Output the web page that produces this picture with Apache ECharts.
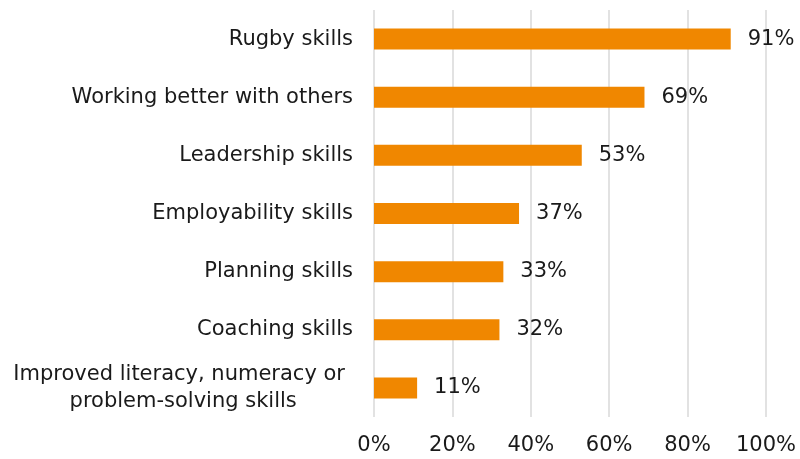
<!DOCTYPE html>
<html>
<head>
<meta charset="utf-8">
<script src="https://cdn.jsdelivr.net/npm/echarts@6/dist/echarts.min.js"></script>
<style>
  html, body { margin: 0; padding: 0; background: #ffffff; }
  #chart { width: 800px; height: 459px; }
</style>
</head>
<body>
<div id="chart"></div>
<script>
// Skills gained, share of respondents (%), listed top to bottom
const categories = [
  'Rugby skills',
  'Working better with others',
  'Leadership skills',
  'Employability skills',
  'Planning skills',
  'Coaching skills',
  'Improved literacy, numeracy or\nproblem-solving skills'
];
const values = [91, 69, 53, 37, 33, 32, 11];
const xTicks = [0, 20, 40, 60, 80, 100];

const FONT = 'DejaVu Sans';
const SIZE = 21;
const chart = echarts.init(document.getElementById('chart'), null, { renderer: 'canvas' });

// Wrapped category names: first line slightly inset, second line centred under it
function categoryLabel(v) {
  const lines = v.split('\n');
  if (lines.length === 1) return v;
  return lines.map((s, i) => (i === 0 ? '{a|' : '{b|') + s + '}').join('\n');
}

chart.setOption({
  animation: false,
  backgroundColor: '#ffffff',
  grid: { left: 374, right: 34, top: 10, bottom: 42, containLabel: false },
  xAxis: {
    type: 'value',
    min: xTicks[0],
    max: xTicks[xTicks.length - 1],
    interval: 20,
    axisLine: { show: false },
    axisTick: { show: false },
    axisLabel: {
      margin: 18,
      color: '#1a1a1a',
      fontFamily: FONT,
      fontSize: SIZE,
      formatter: v => v + '%'
    },
    splitLine: { show: true, lineStyle: { color: '#d9d9d9', width: 1.5 } }
  },
  yAxis: {
    type: 'category',
    inverse: true,
    data: categories,
    axisLine: { show: false },
    axisTick: { show: false },
    axisLabel: {
      margin: 21,
      color: '#1a1a1a',
      fontFamily: FONT,
      fontSize: SIZE,
      lineHeight: 27,
      formatter: categoryLabel,
      rich: {
        a: { align: 'center', fontFamily: FONT, fontSize: SIZE, color: '#1a1a1a', lineHeight: 27, padding: [0, 8, 0, 0] },
        b: { align: 'center', fontFamily: FONT, fontSize: SIZE, color: '#1a1a1a', lineHeight: 27 }
      }
    }
  },
  series: [{
    type: 'bar',
    data: values,
    barWidth: 21,
    itemStyle: { color: '#f08700' },
    label: {
      show: true,
      position: 'right',
      distance: 17,
      color: '#1a1a1a',
      fontFamily: FONT,
      fontSize: SIZE,
      formatter: p => p.value + '%'
    }
  }]
});
</script>
</body>
</html>
